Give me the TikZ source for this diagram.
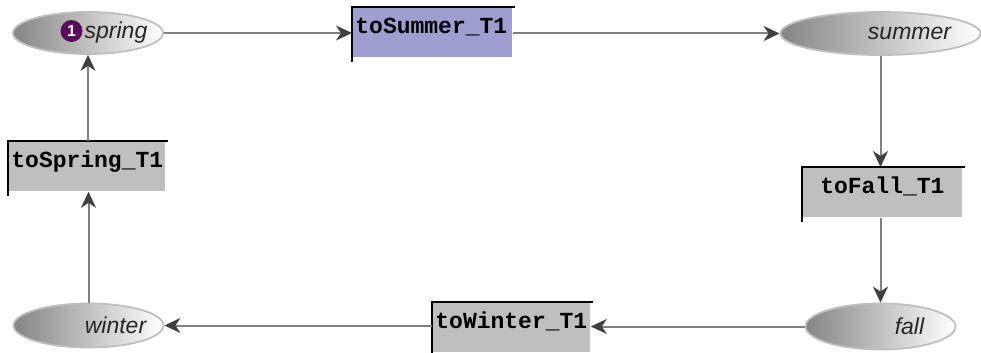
\documentclass[tikz,border=0pt]{standalone}
\usepackage{fontspec}
\setmainfont{Liberation Sans}
\setmonofont{Liberation Mono}
\usetikzlibrary{shapes.geometric,arrows.meta}
\definecolor{enabled}{RGB}{158,158,208}
\definecolor{tokencol}{RGB}{90,10,90}
\tikzset{
  place/.style={ellipse, minimum width=75pt, minimum height=21pt, inner sep=0pt,
    draw=black!25, line width=0.9pt, left color=black!48, right color=white},
  placetext/.style={inner sep=0pt, font=\fontsize{11.5}{13}\selectfont\itshape, text=black!85},
  trans/.style={rectangle, anchor=north west, fill=black!25, inner xsep=1.5pt, inner ysep=1pt,
    text height=12pt, text depth=11pt, text width=77pt, align=left,
    font=\fontsize{11.5}{13}\selectfont\ttfamily\bfseries},
  tborder/.style={line width=1.1pt},
  arc/.style={draw=black!50, line width=1pt,
    -{Stealth[length=8pt,width=7.5pt,inset=2.5pt,color=black!75]}}
}
\begin{document}
\begin{tikzpicture}[x=0.5pt,y=-0.5pt]
\useasboundingbox (0,0) rectangle (981,353);

% places
\node(spring)[place] at (88,33) {};
\node(summer)[place, minimum width=100pt, minimum height=21.5pt] at (880.5,33.5) {};
\node(fall)[place, minimum height=23pt] at (880.5,326.5) {};
\node(winter)[place, minimum height=22pt] at (88.5,325.5) {};

\node(springtxt)[placetext] at ([xshift=14pt]spring.center) {spring};
\node(summertxt)[placetext] at ([xshift=14.5pt]summer.center) {summer};
\node(falltxt)[placetext] at ([xshift=14.5pt]fall.center) {fall};
\node(wintertxt)[placetext] at ([xshift=13.5pt]winter.center) {winter};

\node(token)[circle, fill=tokencol, minimum size=11pt, inner sep=0pt, text=white,
  font=\fontsize{8}{9}\selectfont\bfseries] at (71.5,31) {1};

% transitions
\node(toSummer)[trans, fill=enabled] at (352,7) {toSummer\_T1};
\node(toFall)[trans, align=center] at (802,167) {toFall\_T1};
\node(toWinter)[trans, text width=76pt] at (432,302) {toWinter\_T1};
\node(toSpring)[trans, text width=75.5pt] at (8,141) {toSpring\_T1};

\draw[tborder] ([yshift=-2pt]toSummer.south west) -- (toSummer.north west) -- ([xshift=1pt]toSummer.north east);
\draw[tborder] ([yshift=-2pt]toFall.south west) -- (toFall.north west) -- ([xshift=1pt]toFall.north east);
\draw[tborder] ([yshift=-2pt]toWinter.south west) -- (toWinter.north west) -- ([xshift=1pt]toWinter.north east);
\draw[tborder] ([yshift=-2pt]toSpring.south west) -- (toSpring.north west) -- ([xshift=1pt]toSpring.north east);

% arcs
\draw[arc] (spring.east) -- (spring.east -| toSummer.west);
\draw[arc] (toSummer.east |- summer.west) -- (summer.west);
\draw[arc] (summer.south) -- (summer.south |- toFall.north);
\draw[arc] (toFall.south -| fall.north) -- (fall.north);
\draw[arc] (fall.west) -- (fall.west -| toWinter.east);
\draw[arc] (toWinter.west |- winter.east) -- (winter.east);
\draw[arc] (winter.north) -- (winter.north |- toSpring.south);
\draw[arc] (toSpring.north -| spring.south) -- (spring.south);
\end{tikzpicture}
\end{document}
